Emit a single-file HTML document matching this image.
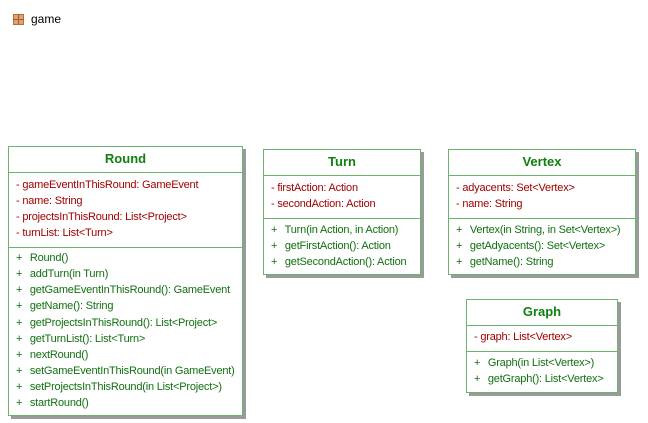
<!DOCTYPE html>
<html><head><style>
body{margin:0;width:648px;height:423px;background:#fff;position:relative;overflow:hidden;font-family:"Liberation Sans",sans-serif;font-size:11px}
.b{position:absolute;border:1px solid #6cb46c;background:#fff;box-shadow:3px 3px 0 #9a9a9a;box-sizing:border-box}
.t{position:absolute;left:0;right:0;text-align:center;font-weight:bold;font-size:13px;color:#108010}
.h{position:absolute;left:0;right:0;border-top:1px solid #6cb46c}
.l{position:absolute;left:7px;white-space:nowrap;line-height:16px;height:16px;letter-spacing:-0.2px}
.a{color:#a00000}.m{color:#107010}
.m span{display:inline-block;width:11px}
</style></head><body>
<div style="position:absolute;left:13px;top:14px;width:11px;height:11px;background:#e0a070;border:1px solid #b07040;box-sizing:border-box"></div>
<div style="position:absolute;left:18px;top:14px;width:1px;height:11px;background:#a06030"></div>
<div style="position:absolute;left:13px;top:19px;width:11px;height:1px;background:#a06030"></div>
<div style="position:absolute;left:31px;top:12px;font-size:12px;color:#000">game</div>

<div class="b" style="left:8px;top:146px;width:235px;height:270px">
<div class="t" style="top:4px">Round</div>
<div class="h" style="top:25px"></div>
<div class="l a" style="top:30px">- gameEventInThisRound: GameEvent</div>
<div class="l a" style="top:46px">- name: String</div>
<div class="l a" style="top:62px">- projectsInThisRound: List&lt;Project&gt;</div>
<div class="l a" style="top:78px">- turnList: List&lt;Turn&gt;</div>
<div class="h" style="top:100px"></div>
<div class="l m" style="top:103px"><span>+</span> Round()</div>
<div class="l m" style="top:119px"><span>+</span> addTurn(in Turn)</div>
<div class="l m" style="top:135px"><span>+</span> getGameEventInThisRound(): GameEvent</div>
<div class="l m" style="top:151px"><span>+</span> getName(): String</div>
<div class="l m" style="top:168px"><span>+</span> getProjectsInThisRound(): List&lt;Project&gt;</div>
<div class="l m" style="top:184px"><span>+</span> getTurnList(): List&lt;Turn&gt;</div>
<div class="l m" style="top:200px"><span>+</span> nextRound()</div>
<div class="l m" style="top:216px"><span>+</span> setGameEventInThisRound(in GameEvent)</div>
<div class="l m" style="top:232px"><span>+</span> setProjectsInThisRound(in List&lt;Project&gt;)</div>
<div class="l m" style="top:248px"><span>+</span> startRound()</div>
</div>

<div class="b" style="left:263px;top:149px;width:158px;height:126px">
<div class="t" style="top:4px">Turn</div>
<div class="h" style="top:25px"></div>
<div class="l a" style="top:30px">- firstAction: Action</div>
<div class="l a" style="top:46px">- secondAction: Action</div>
<div class="h" style="top:68px"></div>
<div class="l m" style="top:72px"><span>+</span> Turn(in Action, in Action)</div>
<div class="l m" style="top:88px"><span>+</span> getFirstAction(): Action</div>
<div class="l m" style="top:104px"><span>+</span> getSecondAction(): Action</div>
</div>

<div class="b" style="left:448px;top:149px;width:188px;height:126px;overflow:hidden">
<div class="t" style="top:4px">Vertex</div>
<div class="h" style="top:25px"></div>
<div class="l a" style="top:30px">- adyacents: Set&lt;Vertex&gt;</div>
<div class="l a" style="top:46px">- name: String</div>
<div class="h" style="top:68px"></div>
<div class="l m" style="top:72px"><span>+</span> Vertex(in String, in Set&lt;Vertex&gt;)</div>
<div class="l m" style="top:88px"><span>+</span> getAdyacents(): Set&lt;Vertex&gt;</div>
<div class="l m" style="top:104px"><span>+</span> getName(): String</div>
</div>

<div class="b" style="left:466px;top:299px;width:152px;height:94px">
<div class="t" style="top:4px">Graph</div>
<div class="h" style="top:25px"></div>
<div class="l a" style="top:29px">- graph: List&lt;Vertex&gt;</div>
<div class="h" style="top:51px"></div>
<div class="l m" style="top:55px"><span>+</span> Graph(in List&lt;Vertex&gt;)</div>
<div class="l m" style="top:71px"><span>+</span> getGraph(): List&lt;Vertex&gt;</div>
</div>
</body></html>
